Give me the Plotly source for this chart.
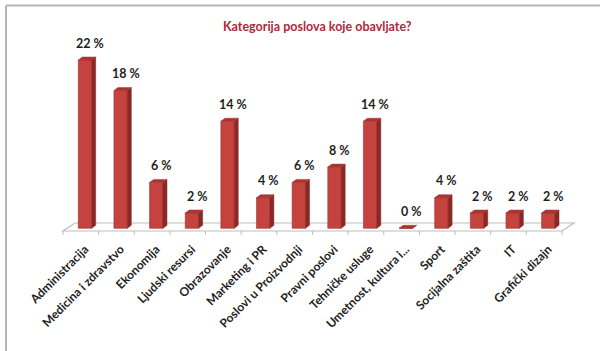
import plotly.graph_objects as go

# Survey answers: share of respondents per job category
categories = [
    "Administracija", "Medicina i zdravstvo", "Ekonomija", "Ljudski resursi",
    "Obrazovanje", "Marketing i PR", "Poslovi u Proizvodnji", "Pravni poslovi",
    "Tehničke usluge", "Umetnost, kultura i...", "Sport", "Socijalna zaštita",
    "IT", "Grafički dizajn",
]
values = [22, 18, 6, 2, 14, 4, 6, 8, 14, 0, 4, 2, 2, 2]
value_labels = [f"{v} %" for v in values]
title_text = "Kategorija poslova koje obavljate?"

# Canvas geometry (pixels)
W, H = 600, 351
X0_PX, PITCH_PX = 85.0, 35.64      # first column centre, column spacing
BASE_PY, UNIT_PX = 228.3, 7.65     # baseline row, pixels per percent
AXIS_PY = 239.0                    # where the category labels begin

x_range = [-X0_PX / PITCH_PX, (W - X0_PX) / PITCH_PX]
y_range = [(BASE_PY - AXIS_PY) / UNIT_PX, BASE_PY / UNIT_PX]
y_domain = [(H - AXIS_PY) / H, 1.0]

# Pseudo-3D column parameters (in axis units)
BAR_W = 13.4 / PITCH_PX
DX = 4.0 / PITCH_PX
DY = 3.0 / UNIT_PX

FRONT = "#C4433F"
SIDE = "#8A2826"
TOP = "#A93430"

xs = list(range(len(categories)))

side_x, side_y, top_x, top_y = [], [], [], []
for x, v in zip(xs, values):
    xl, xr = x - BAR_W / 2, x + BAR_W / 2
    side_x += [xr, xr + DX, xr + DX, xr, xr, None]
    side_y += [0, DY, v + DY, v, 0, None]
    top_x += [xl, xl + DX, xr + DX, xr, xl, None]
    top_y += [v, v + DY, v + DY, v, v, None]

fig = go.Figure()
fig.add_trace(go.Bar(
    x=xs, y=values, width=BAR_W,
    marker=dict(color=FRONT, line=dict(color="#9E3230", width=0.6)),
    hoverinfo="skip",
))
fig.add_trace(go.Scatter(
    x=side_x, y=side_y, mode="lines", fill="toself", fillcolor=SIDE,
    line=dict(color=SIDE, width=0.5), hoverinfo="skip",
))
fig.add_trace(go.Scatter(
    x=top_x, y=top_y, mode="lines", fill="toself", fillcolor=TOP,
    line=dict(color=TOP, width=0.5), hoverinfo="skip",
))

# Floor of the 3D plot area with category tick marks on its front edge
floor_front_y = -2.7 / UNIT_PX
floor_back_y = 5.3 / UNIT_PX
fx0 = -22.0 / PITCH_PX
fshift = 12.0 / PITCH_PX
n = len(categories)
shapes = [
    dict(type="path", xref="x", yref="y", layer="below",
         path=(f"M {fx0},{floor_front_y} L {fx0 + n},{floor_front_y} "
               f"L {fx0 + n + fshift},{floor_back_y} L {fx0 + fshift},{floor_back_y} Z"),
         line=dict(color="#BDBDBD", width=1.2), fillcolor="rgba(0,0,0,0)"),
]
for k in range(n + 1):
    shapes.append(dict(type="line", xref="x", yref="y", layer="below",
                       x0=fx0 + k, x1=fx0 + k,
                       y0=floor_front_y, y1=floor_front_y - 4.0 / UNIT_PX,
                       line=dict(color="#BDBDBD", width=1)))

# Outer frame (top and left edges)
shapes.append(dict(type="line", xref="paper", yref="paper",
                   x0=6 / W, x1=1.0, y0=1 - 5.5 / H, y1=1 - 5.5 / H,
                   line=dict(color="#B5B5B5", width=2)))
shapes.append(dict(type="line", xref="paper", yref="paper",
                   x0=6 / W, x1=6 / W, y0=1 - 5.5 / H, y1=0,
                   line=dict(color="#B5B5B5", width=2)))

annotations = []
for x, v, t in zip(xs, values, value_labels):
    annotations.append(dict(
        x=x + 0.15, y=v, xref="x", yref="y", text=t, showarrow=False,
        yshift=17, xanchor="center", yanchor="middle",
        font=dict(family="Lato", size=12.5, color="#1E1E1E", weight="bold"),
    ))
annotations.append(dict(
    x=317 / W, y=1 - 27 / H, xref="paper", yref="paper", text=title_text,
    showarrow=False, xanchor="center", yanchor="middle",
    font=dict(family="Lato", size=12.5, color="#B0283A", weight="bold"),
))

fig.update_layout(
    width=W, height=H,
    margin=dict(l=0, r=0, t=0, b=0),
    paper_bgcolor="white", plot_bgcolor="rgba(0,0,0,0)",
    showlegend=False,
    shapes=shapes, annotations=annotations,
    xaxis=dict(
        range=x_range, domain=[0, 1], tickmode="array", tickvals=xs,
        ticktext=categories, tickangle=-45, showgrid=False, zeroline=False,
        showline=False, ticks="", automargin=False,
        tickfont=dict(family="Lato", size=12, color="#222222", weight="bold"),
    ),
    yaxis=dict(
        range=y_range, domain=y_domain, visible=False, showgrid=False,
        zeroline=False, automargin=False,
    ),
)

fig.write_html("out.html")
